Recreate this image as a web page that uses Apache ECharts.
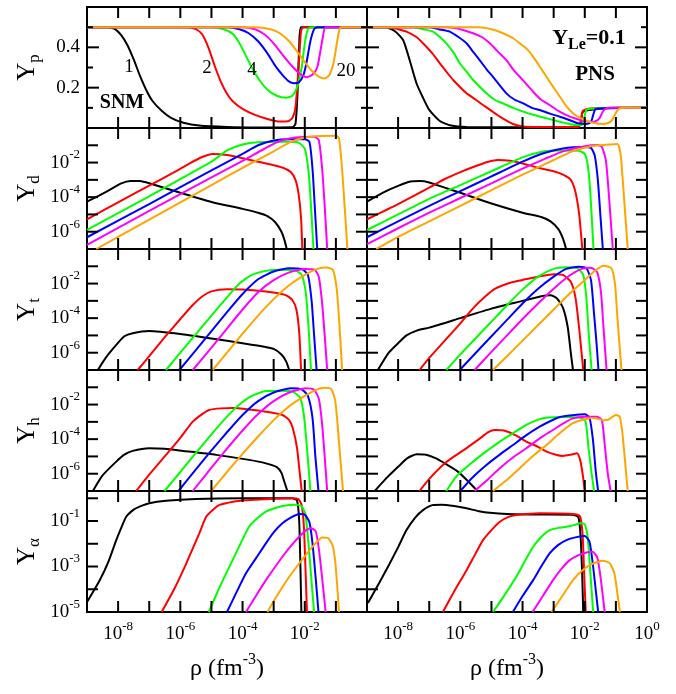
<!DOCTYPE html>
<html>
<head>
<meta charset="utf-8">
<script src="https://cdn.jsdelivr.net/npm/echarts@6/dist/echarts.min.js"></script>
<style>
html, body { margin: 0; padding: 0; background: #fff; }
#chart { width: 676px; height: 694px; }
</style>
</head>
<body>
<div id="chart"></div>
<script>
// curve colours / temperatures (MeV)
var colors = ['#000000', '#ff0000', '#00ff00', '#0000ff', '#ff00ff', '#ffa500'];
var tempNames = ['T=1', 'T=2', 'T=4', 'T=6', 'T=10', 'T=20'];

// tick values (log10 rho on x, log10 Y on y), [value, tick length px]
var xTickVals = [-8, -7, -6, -5, -4, -3, -2, -1];
var ypTickVals = [[0.1, 6], [0.2, 12], [0.3, 6], [0.4, 12], [0.5, 6]];
var logTickVals = [[-6, 11], [-5, 11], [-4, 11], [-3, 11], [-2, 11], [-1, 11]];
var alphaTickVals = [[-4, 11], [-3, 11], [-2, 11], [-1, 11], [0, 11]];

// x = log10(rho), y = Yp (linear) or log10(Y)
var ypSNM = [
    [[-9,0.5],[-8.3,0.5],[-8.1,0.49],[-7.9,0.46],[-7.7,0.41],[-7.5,0.34],[-7.3,0.26],[-7.1,0.19],[-6.9,0.135],[-6.6,0.085],[-6.3,0.05],[-5.9,0.026],[-5.4,0.012],[-4.5,0.005],[-3.5,0.003],[-2.4,0.004],[-2.3,0.02],[-2.24,0.15],[-2.18,0.4],[-2.12,0.5],[0,0.5]],
    [[-9,0.5],[-5.8,0.5],[-5.5,0.49],[-5.3,0.465],[-5.1,0.4],[-4.9,0.31],[-4.7,0.23],[-4.5,0.17],[-4.3,0.13],[-4.0,0.095],[-3.6,0.065],[-3.2,0.045],[-2.8,0.032],[-2.55,0.033],[-2.4,0.05],[-2.3,0.1],[-2.2,0.3],[-2.12,0.48],[-2.05,0.5],[0,0.5]],
    [[-9,0.5],[-5.0,0.5],[-4.6,0.49],[-4.3,0.465],[-4.1,0.42],[-3.9,0.36],[-3.7,0.3],[-3.46,0.238],[-3.2,0.19],[-2.9,0.16],[-2.6,0.15],[-2.4,0.16],[-2.25,0.2],[-2.1,0.3],[-2.0,0.42],[-1.9,0.49],[-1.8,0.5],[0,0.5]],
    [[-9,0.5],[-4.5,0.5],[-4.1,0.49],[-3.8,0.47],[-3.5,0.43],[-3.2,0.37],[-2.93,0.304],[-2.7,0.26],[-2.5,0.23],[-2.35,0.222],[-2.2,0.225],[-2.05,0.26],[-1.95,0.32],[-1.82,0.43],[-1.7,0.49],[-1.6,0.5],[0,0.5]],
    [[-9,0.5],[-4.0,0.5],[-3.6,0.49],[-3.3,0.465],[-3.0,0.42],[-2.7,0.36],[-2.4,0.305],[-2.15,0.268],[-1.92,0.252],[-1.75,0.265],[-1.6,0.3],[-1.5,0.38],[-1.42,0.45],[-1.33,0.5],[0,0.5]],
    [[-9,0.5],[-3.6,0.5],[-3.1,0.49],[-2.8,0.47],[-2.5,0.43],[-2.2,0.37],[-1.97,0.321],[-1.75,0.28],[-1.55,0.255],[-1.38,0.246],[-1.22,0.26],[-1.08,0.32],[-0.98,0.41],[-0.9,0.48],[-0.83,0.5],[0,0.5]]
];
var ypPNS = [
    [[-9,0.5],[-8.4,0.5],[-8.1,0.48],[-7.84,0.436],[-7.63,0.337],[-7.41,0.222],[-7.2,0.15],[-7.0,0.09],[-6.66,0.035],[-6.3,0.012],[-5.8,0.005],[-3,0.004],[-2.2,0.005],[-2.13,0.03],[-2.08,0.075],[-2.0,0.085],[-1.5,0.095],[-0.8,0.1],[0,0.1]],
    [[-9,0.5],[-8.3,0.5],[-8.0,0.49],[-7.73,0.478],[-7.4,0.45],[-7.2,0.42],[-6.9,0.37],[-6.66,0.321],[-6.4,0.27],[-6.23,0.238],[-5.8,0.172],[-5.5,0.14],[-5.27,0.114],[-5.0,0.085],[-4.73,0.056],[-4.5,0.035],[-4.31,0.02],[-4.0,0.008],[-3.5,0.005],[-2.2,0.005],[-2.12,0.04],[-2.06,0.085],[-1.9,0.095],[-1.0,0.1],[0,0.1]],
    [[-9,0.5],[-7.5,0.5],[-7.2,0.49],[-6.88,0.478],[-6.65,0.45],[-6.45,0.42],[-6.2,0.37],[-6.02,0.321],[-5.8,0.28],[-5.59,0.238],[-5.16,0.172],[-4.9,0.14],[-4.63,0.122],[-4.3,0.1],[-3.98,0.081],[-3.6,0.063],[-3.23,0.048],[-2.9,0.035],[-2.59,0.023],[-2.3,0.015],[-2.1,0.015],[-2.02,0.05],[-1.95,0.09],[-1.8,0.095],[-1,0.1],[0,0.1]],
    [[-9,0.5],[-7.0,0.5],[-6.7,0.49],[-6.34,0.478],[-6.05,0.45],[-5.8,0.42],[-5.6,0.38],[-5.38,0.337],[-5.15,0.29],[-4.95,0.254],[-4.52,0.172],[-4.25,0.14],[-3.98,0.122],[-3.7,0.1],[-3.45,0.089],[-3.1,0.07],[-2.8,0.056],[-2.5,0.04],[-2.2,0.023],[-1.95,0.02],[-1.8,0.03],[-1.72,0.07],[-1.65,0.095],[-1.3,0.098],[0,0.1]],
    [[-9,0.5],[-6.4,0.5],[-6.0,0.49],[-5.59,0.47],[-5.3,0.45],[-5.05,0.42],[-4.8,0.38],[-4.52,0.337],[-4.3,0.29],[-4.09,0.254],[-3.66,0.18],[-3.4,0.14],[-3.13,0.114],[-2.85,0.085],[-2.59,0.064],[-2.3,0.047],[-2.05,0.036],[-1.73,0.03],[-1.6,0.038],[-1.52,0.05],[-1.44,0.075],[-1.36,0.093],[-1.2,0.1],[0,0.1]],
    [[-9,0.5],[-5.4,0.5],[-5.0,0.49],[-4.63,0.47],[-4.3,0.445],[-4.09,0.42],[-3.85,0.39],[-3.66,0.354],[-3.45,0.305],[-3.23,0.254],[-3.0,0.2],[-2.8,0.155],[-2.6,0.11],[-2.38,0.073],[-2.15,0.05],[-1.95,0.036],[-1.7,0.025],[-1.41,0.02],[-1.25,0.025],[-1.14,0.036],[-1.05,0.06],[-0.98,0.081],[-0.88,0.097],[-0.7,0.1],[0,0.1]]
];
var ydSNM = [
    [[-9,-4.26],[-8.6,-3.9],[-8.27,-3.58],[-7.9,-3.2],[-7.6,-3.06],[-7.3,-3.07],[-7,-3.2],[-6,-3.75],[-5,-4.28],[-4,-4.68],[-3.5,-4.9],[-3.2,-5.1],[-2.95,-5.45],[-2.75,-6.0],[-2.65,-6.5],[-2.58,-7]],
    [[-9,-5.28],[-8,-4.3],[-7,-3.33],[-6.24,-2.6],[-5.7,-2.05],[-5.3,-1.68],[-4.96,-1.5],[-4.5,-1.56],[-4,-1.75],[-3.5,-1.95],[-3,-2.15],[-2.7,-2.3],[-2.45,-2.55],[-2.3,-3.0],[-2.2,-3.8],[-2.12,-5.2],[-2.08,-7]],
    [[-9,-5.9],[-7,-3.95],[-5,-1.95],[-4.5,-1.3],[-4,-0.95],[-3.5,-0.82],[-2.5,-0.8],[-2.2,-0.85],[-2.0,-1.2],[-1.88,-2.5],[-1.8,-4.5],[-1.72,-7]],
    [[-9,-6.32],[-7,-4.4],[-5,-2.45],[-4,-1.5],[-3.5,-1.0],[-3.0,-0.72],[-2.5,-0.65],[-2.0,-0.65],[-1.85,-0.8],[-1.75,-2.4],[-1.68,-4.5],[-1.6,-7]],
    [[-9,-6.76],[-7,-4.8],[-5,-2.85],[-4,-1.9],[-3.3,-1.2],[-2.8,-0.75],[-2.3,-0.55],[-1.7,-0.5],[-1.55,-0.7],[-1.44,-2.4],[-1.36,-4.5],[-1.28,-7]],
    [[-8.7,-7],[-7,-5.3],[-5,-3.3],[-4,-2.3],[-3,-1.35],[-2.5,-0.85],[-2.0,-0.55],[-1.5,-0.46],[-1.0,-0.45],[-0.9,-0.6],[-0.8,-2.4],[-0.72,-4.5],[-0.63,-7]]
];
var ydPNS = [
    [[-9,-4.26],[-8.5,-3.75],[-8,-3.35],[-7.6,-3.1],[-7.3,-3.07],[-7,-3.15],[-6.5,-3.45],[-6,-3.75],[-5,-4.37],[-4,-4.9],[-3.4,-5.15],[-3.1,-5.4],[-2.85,-5.85],[-2.7,-6.4],[-2.6,-7]],
    [[-9,-5.28],[-8,-4.4],[-7,-3.45],[-6.5,-2.95],[-6,-2.55],[-5.5,-2.2],[-5.1,-1.95],[-4.8,-1.85],[-4.4,-1.9],[-4,-2.05],[-3.5,-2.3],[-3,-2.5],[-2.7,-2.7],[-2.45,-3.0],[-2.3,-3.7],[-2.18,-5],[-2.08,-7]],
    [[-9,-5.9],[-8,-5.0],[-7,-4.1],[-6,-3.3],[-5,-2.5],[-4,-1.7],[-3.3,-1.35],[-2.8,-1.3],[-2.2,-1.32],[-2.0,-1.5],[-1.9,-2.2],[-1.82,-3.8],[-1.72,-7]],
    [[-9,-6.32],[-8,-5.4],[-7,-4.5],[-6,-3.65],[-5,-2.8],[-4,-1.95],[-3.3,-1.45],[-2.7,-1.18],[-2.0,-1.1],[-1.8,-1.15],[-1.68,-1.6],[-1.58,-3],[-1.5,-5],[-1.42,-7]],
    [[-9,-6.72],[-8,-5.8],[-7,-4.9],[-6,-4.05],[-5,-3.2],[-4,-2.35],[-3.3,-1.8],[-2.7,-1.35],[-2.0,-1.05],[-1.6,-0.98],[-1.45,-1.1],[-1.32,-1.9],[-1.22,-4],[-1.1,-7]],
    [[-8.7,-7],[-8,-6.3],[-7,-5.4],[-6,-4.5],[-5,-3.6],[-4,-2.7],[-3,-1.85],[-2.4,-1.35],[-1.8,-1.05],[-1.2,-0.95],[-0.95,-0.92],[-0.85,-1.5],[-0.78,-3],[-0.7,-5],[-0.62,-7]]
];
var ytSNM = [
    [[-8.65,-7],[-8.4,-6.3],[-8.06,-5.55],[-7.8,-5.05],[-7.53,-4.87],[-7,-4.75],[-6,-4.92],[-5,-5.18],[-4,-5.45],[-3.3,-5.65],[-3.0,-5.78],[-2.75,-6.1],[-2.6,-6.5],[-2.5,-7]],
    [[-7.37,-7],[-7,-6.2],[-6.5,-5.1],[-6,-4.05],[-5.6,-3.24],[-5.3,-2.75],[-5.0,-2.45],[-4.5,-2.33],[-4,-2.35],[-3.5,-2.42],[-3,-2.52],[-2.6,-2.68],[-2.4,-2.95],[-2.27,-3.5],[-2.18,-4.8],[-2.12,-7]],
    [[-6.46,-7],[-6,-6.0],[-5,-3.85],[-4.5,-2.8],[-4.1,-2.0],[-3.7,-1.5],[-3.3,-1.28],[-2.8,-1.2],[-2.3,-1.25],[-2.1,-1.5],[-1.97,-2.5],[-1.88,-4.5],[-1.8,-7]],
    [[-6.03,-7],[-5.5,-5.85],[-5,-4.75],[-4.5,-3.65],[-4,-2.6],[-3.5,-1.75],[-3,-1.3],[-2.5,-1.12],[-2.1,-1.15],[-1.9,-1.5],[-1.78,-3],[-1.7,-5],[-1.62,-7]],
    [[-5.6,-7],[-5,-5.7],[-4.5,-4.6],[-4,-3.5],[-3.5,-2.5],[-3,-1.8],[-2.5,-1.35],[-2,-1.15],[-1.7,-1.18],[-1.55,-1.6],[-1.45,-3],[-1.36,-5],[-1.28,-7]],
    [[-4.96,-7],[-4.5,-6.0],[-4,-4.9],[-3.5,-3.85],[-3,-2.9],[-2.5,-2.1],[-2,-1.5],[-1.6,-1.15],[-1.3,-1.07],[-1.1,-1.2],[-0.98,-2.2],[-0.9,-4],[-0.8,-7]]
];
var ytPNS = [
    [[-8.65,-7],[-8.3,-6.0],[-8,-5.45],[-7.73,-5.0],[-7.4,-4.72],[-7,-4.55],[-6,-4.0],[-5,-3.45],[-4,-3.0],[-3.4,-2.73],[-3.1,-2.68],[-2.9,-2.85],[-2.7,-3.4],[-2.55,-4.5],[-2.45,-6],[-2.38,-7]],
    [[-7.31,-7],[-7,-6.3],[-6.5,-5.3],[-6,-4.3],[-5.6,-3.45],[-5.2,-2.75],[-4.85,-2.27],[-4.4,-1.95],[-4,-1.79],[-3.5,-1.6],[-3.0,-1.46],[-2.7,-1.5],[-2.45,-1.9],[-2.3,-2.8],[-2.18,-4.6],[-2.05,-7]],
    [[-6.45,-7],[-6,-6.1],[-5.5,-5.15],[-5,-4.2],[-4.5,-3.25],[-4,-2.35],[-3.5,-1.6],[-3,-1.15],[-2.6,-1.06],[-2.25,-1.1],[-2.05,-1.5],[-1.95,-2.8],[-1.87,-5],[-1.78,-7]],
    [[-6.02,-7],[-5.5,-6.0],[-5,-5.05],[-4.5,-4.1],[-4,-3.15],[-3.5,-2.3],[-3,-1.6],[-2.6,-1.15],[-2.2,-1.02],[-1.95,-1.1],[-1.8,-1.8],[-1.7,-3.8],[-1.62,-5.5],[-1.56,-7]],
    [[-5.54,-7],[-5,-5.95],[-4.5,-5.0],[-4,-4.05],[-3.5,-3.15],[-3,-2.3],[-2.5,-1.55],[-2.1,-1.15],[-1.8,-1.08],[-1.6,-1.35],[-1.48,-2.5],[-1.4,-4.5],[-1.3,-7]],
    [[-4.95,-7],[-4.5,-6.2],[-4,-5.3],[-3.5,-4.4],[-3,-3.5],[-2.5,-2.6],[-2,-1.8],[-1.7,-1.3],[-1.4,-0.97],[-1.15,-1.1],[-1.03,-2],[-0.95,-4],[-0.82,-7]]
];
var yhSNM = [
    [[-8.81,-7],[-8.5,-6.1],[-8.06,-5.3],[-7.8,-4.9],[-7.53,-4.68],[-7.0,-4.53],[-6.5,-4.56],[-5.92,-4.68],[-4.85,-4.91],[-3.79,-5.2],[-3.25,-5.4],[-2.9,-5.62],[-2.75,-5.95],[-2.66,-6.45],[-2.56,-7]],
    [[-7.42,-7],[-7.0,-6.05],[-6.46,-4.91],[-6.0,-3.92],[-5.6,-2.99],[-5.3,-2.55],[-5.07,-2.31],[-4.7,-2.22],[-4.32,-2.2],[-3.8,-2.28],[-3.25,-2.41],[-2.72,-2.6],[-2.5,-2.9],[-2.38,-3.4],[-2.25,-4.5],[-2.16,-6],[-2.1,-7]],
    [[-6.51,-7],[-6.0,-5.9],[-5.5,-4.8],[-5.0,-3.72],[-4.5,-2.7],[-4.1,-2.0],[-3.7,-1.5],[-3.25,-1.22],[-2.8,-1.2],[-2.4,-1.25],[-2.15,-1.6],[-2.03,-2.6],[-1.93,-4.5],[-1.82,-7]],
    [[-6.06,-7],[-5.5,-5.75],[-5.0,-4.65],[-4.5,-3.6],[-4.0,-2.6],[-3.5,-1.8],[-3.0,-1.3],[-2.45,-1.06],[-2.1,-1.12],[-1.9,-1.5],[-1.75,-2.8],[-1.66,-5],[-1.56,-7]],
    [[-5.6,-7],[-5.0,-5.65],[-4.5,-4.55],[-4.0,-3.5],[-3.5,-2.55],[-3.0,-1.8],[-2.5,-1.3],[-1.97,-1.06],[-1.7,-1.15],[-1.55,-1.65],[-1.45,-3],[-1.36,-5],[-1.28,-7]],
    [[-5.01,-7],[-4.5,-5.9],[-4.0,-4.85],[-3.5,-3.85],[-3.0,-2.9],[-2.5,-2.1],[-2.0,-1.5],[-1.6,-1.12],[-1.38,-1.02],[-1.15,-1.1],[-1.02,-1.8],[-0.93,-3.5],[-0.85,-5.3],[-0.77,-7]]
];
var yhPNS = [
    [[-8.75,-7],[-8.4,-6.3],[-8,-5.6],[-7.7,-5.1],[-7.4,-4.87],[-7.1,-4.9],[-6.8,-5.1],[-6.5,-5.4],[-6.1,-5.85],[-5.8,-6.35],[-5.45,-7]],
    [[-7.31,-7],[-7,-6.3],[-6.56,-5.49],[-6.2,-5.0],[-5.81,-4.53],[-5.4,-4.0],[-5.1,-3.6],[-4.9,-3.47],[-4.6,-3.5],[-4.2,-3.8],[-3.88,-4.14],[-3.5,-4.45],[-3.23,-4.72],[-2.9,-4.92],[-2.7,-4.97],[-2.45,-4.9],[-2.25,-4.82],[-2.15,-5.2],[-2.07,-6],[-2.0,-7]],
    [[-6.45,-7],[-6.1,-6.1],[-5.59,-5.3],[-5.2,-4.75],[-4.73,-4.14],[-4.3,-3.65],[-3.88,-3.18],[-3.5,-2.87],[-3.2,-2.75],[-2.6,-2.72],[-2.1,-2.78],[-1.97,-3.0],[-1.88,-4.5],[-1.78,-6],[-1.7,-7]],
    [[-6.0,-7],[-5.6,-6.2],[-5.16,-5.49],[-4.7,-4.85],[-4.31,-4.34],[-3.9,-3.8],[-3.45,-3.28],[-3.1,-2.95],[-2.8,-2.72],[-2.4,-2.62],[-2.0,-2.56],[-1.85,-2.75],[-1.74,-4],[-1.64,-6],[-1.57,-7]],
    [[-5.54,-7],[-5.1,-6.3],[-4.73,-5.68],[-4.3,-5.05],[-3.88,-4.53],[-3.4,-3.9],[-3.02,-3.47],[-2.7,-3.1],[-2.38,-2.8],[-2.0,-2.7],[-1.6,-2.7],[-1.45,-2.9],[-1.36,-4.3],[-1.26,-6],[-1.17,-7]],
    [[-4.95,-7],[-4.5,-6.35],[-4.09,-5.68],[-3.65,-4.95],[-3.23,-4.34],[-2.8,-3.65],[-2.38,-3.08],[-2.0,-2.85],[-1.7,-2.78],[-1.4,-2.9],[-1.25,-2.88],[-1.0,-2.6],[-0.88,-2.7],[-0.8,-3.5],[-0.72,-5],[-0.62,-7]]
];
var yaSNM = [
    [[-9,-4.56],[-8.59,-3.6],[-8.3,-2.75],[-8.06,-1.84],[-7.9,-1.3],[-7.74,-0.81],[-7.5,-0.5],[-7.31,-0.37],[-7,-0.22],[-6.46,-0.11],[-5.5,-0.03],[-4,0],[-2.4,0],[-2.25,-0.1],[-2.18,-1],[-2.14,-3],[-2.11,-5]],
    [[-6.6,-5],[-6.2,-4.0],[-5.81,-2.87],[-5.6,-2.2],[-5.39,-1.54],[-5.17,-0.81],[-4.95,-0.5],[-4.75,-0.3],[-4.3,-0.15],[-3.89,-0.09],[-3,-0.02],[-2.4,0],[-2.2,-0.05],[-2.1,-0.3],[-2.03,-1.2],[-1.98,-3],[-1.93,-5]],
    [[-5.09,-5],[-4.7,-3.8],[-4.32,-2.72],[-4.05,-1.95],[-3.79,-1.25],[-3.5,-0.85],[-3.25,-0.59],[-3.0,-0.45],[-2.72,-0.34],[-2.3,-0.28],[-2.1,-0.35],[-1.98,-0.7],[-1.88,-2],[-1.78,-3.7],[-1.7,-5]],
    [[-4.5,-5],[-4.2,-4.15],[-3.89,-3.3],[-3.55,-2.6],[-3.25,-1.98],[-3.0,-1.5],[-2.72,-1.1],[-2.45,-0.85],[-2.18,-0.69],[-2.0,-0.72],[-1.85,-1.05],[-1.75,-2],[-1.65,-3.5],[-1.56,-5]],
    [[-3.89,-5],[-3.55,-4.25],[-3.25,-3.6],[-2.72,-2.57],[-2.45,-2.1],[-2.18,-1.69],[-1.95,-1.4],[-1.8,-1.32],[-1.65,-1.45],[-1.55,-2.2],[-1.45,-3.4],[-1.33,-5]],
    [[-3.2,-5],[-2.9,-4.3],[-2.5,-3.45],[-2.2,-2.9],[-1.97,-2.5],[-1.7,-2.05],[-1.44,-1.72],[-1.25,-1.75],[-1.1,-2.1],[-1.02,-2.8],[-0.96,-3.8],[-0.9,-5]]
];
var yaPNS = [
    [[-8.97,-4.6],[-8.6,-3.7],[-8.27,-2.87],[-8.0,-2.15],[-7.73,-1.4],[-7.45,-0.85],[-7.2,-0.52],[-6.9,-0.3],[-6.6,-0.28],[-6.2,-0.34],[-5.8,-0.44],[-5.4,-0.57],[-5.05,-0.64],[-4.5,-0.69],[-3.5,-0.71],[-2.4,-0.72],[-2.2,-0.85],[-2.13,-1.8],[-2.08,-3.5],[-2.05,-5]],
    [[-6.56,-5],[-6.2,-4.1],[-5.8,-3.16],[-5.5,-2.4],[-5.27,-1.84],[-5.0,-1.4],[-4.73,-1.03],[-4.45,-0.82],[-4.2,-0.74],[-3.45,-0.66],[-2.3,-0.7],[-2.15,-0.8],[-2.07,-1.6],[-2.02,-3.3],[-1.97,-5]],
    [[-4.95,-5],[-4.6,-4.3],[-4.2,-3.45],[-3.9,-2.7],[-3.66,-2.13],[-3.4,-1.7],[-3.13,-1.4],[-2.85,-1.3],[-2.59,-1.25],[-2.35,-1.18],[-2.15,-1.1],[-2.0,-1.15],[-1.9,-1.8],[-1.82,-3.3],[-1.73,-5]],
    [[-4.31,-5],[-4.0,-4.3],[-3.66,-3.6],[-3.4,-3.0],[-3.13,-2.42],[-2.85,-2.05],[-2.59,-1.84],[-2.3,-1.72],[-2.0,-1.66],[-1.85,-1.9],[-1.75,-2.8],[-1.65,-4],[-1.57,-5]],
    [[-3.68,-5],[-3.35,-4.3],[-3.02,-3.6],[-2.75,-3.1],[-2.48,-2.72],[-2.2,-2.5],[-1.95,-2.38],[-1.75,-2.35],[-1.6,-2.6],[-1.5,-3.4],[-1.36,-5]],
    [[-3.07,-5],[-2.7,-4.25],[-2.38,-3.6],[-2.1,-3.2],[-1.84,-2.94],[-1.6,-2.8],[-1.41,-2.75],[-1.2,-2.85],[-1.05,-3.3],[-0.95,-4.2],[-0.87,-5]]
];

var rowNames = ['p', 'd', 't', 'h', 'α'];
var rowData = [[ypSNM, ypPNS], [ydSNM, ydPNS], [ytSNM, ytPNS], [yhSNM, yhPNS], [yaSNM, yaPNS]];
var rowTicks = [ypTickVals, logTickVals, logTickVals, logTickVals, alphaTickVals];

var font = 'Liberation Serif';
var colLeft = [87, 367];
var rowTop = [7, 128, 249, 370, 491];
var panelW = 280, panelH = 121;
var xMin = -9, xMax = 0;

function labelRich() {
    return {
        b: { fontSize: 19, fontFamily: font, color: '#000', lineHeight: 28 },
        s: { fontSize: 13, fontFamily: font, color: '#000', lineHeight: 12, verticalAlign: 'top' }
    };
}
function blackLine() { return { color: '#000', width: 2 }; }

function yRange(r) {
    if (r === 0) return { min: 0, max: 0.6, interval: 0.2 };
    if (r === 4) return { min: -5, max: 0.32, interval: 1 };
    return { min: -7, max: 0, interval: 1 };
}

function yLabel(r, v) {
    if (r === 0) {
        if (Math.abs(v - 0.2) < 1e-6) return '{b|0.2}';
        if (Math.abs(v - 0.4) < 1e-6) return '{b|0.4}';
        return '';
    }
    if (Math.abs(v - Math.round(v)) > 1e-6) return '';
    v = Math.round(v);
    if (r === 4) {
        if (v === -1 || v === -3 || v === -5) return '{b|10}{s|' + v + '}';
        return '';
    }
    if (v === -2 || v === -4 || v === -6) return '{b|10}{s|' + v + '}';
    return '';
}

var grids = [], xAxes = [], yAxes = [], series = [], panelRanges = [];
var idx = 0;
for (var r = 0; r < 5; r++) {
    for (var c = 0; c < 2; c++) {
        grids.push({ left: colLeft[c], top: rowTop[r], width: panelW, height: panelH });
        var yr = yRange(r);
        panelRanges.push({ yr: yr, ticks: rowTicks[r] });
        ['bottom', 'top'].forEach(function (pos) {
            var showLab = pos === 'bottom' && r === 4;
            var col = c;
            var ax = {
                type: 'value', gridIndex: idx, position: pos, min: xMin, max: xMax, interval: 1,
                axisLine: { show: true, onZero: false, lineStyle: blackLine() },
                axisTick: { show: false },
                splitLine: { show: false },
                axisLabel: { show: showLab, margin: 8, showMinLabel: true, showMaxLabel: true }
            };
            if (showLab) {
                ax.axisLabel.formatter = function (v) {
                    v = Math.round(v);
                    if (v % 2 !== 0) return '';
                    if (col === 0 && v === 0) return '';
                    return '{b|10}{s|' + v + '}';
                };
                ax.axisLabel.rich = labelRich();
                ax.name = '{a|ρ (fm}{s|-3}{a|)}';
                ax.nameLocation = 'middle';
                ax.nameGap = 40;
                ax.nameTextStyle = {
                    rich: {
                        a: { fontSize: 24, fontFamily: font, color: '#000', lineHeight: 34 },
                        s: { fontSize: 16, fontFamily: font, color: '#000', lineHeight: 16, verticalAlign: 'top' }
                    }
                };
            }
            xAxes.push(ax);
        });
        ['left', 'right'].forEach(function (pos) {
            var showLab = pos === 'left' && c === 0;
            var row = r;
            var ax = {
                type: 'value', gridIndex: idx, position: pos,
                min: yr.min, max: yr.max, interval: yr.interval,
                axisLine: { show: true, onZero: false, lineStyle: blackLine() },
                axisTick: { show: false },
                splitLine: { show: false },
                axisLabel: { show: showLab, margin: 7, showMinLabel: true, showMaxLabel: true }
            };
            if (showLab) {
                ax.axisLabel.formatter = function (v) { return yLabel(row, v); };
                ax.axisLabel.rich = labelRich();
                ax.name = '{y|Y}{s|' + rowNames[r] + '}';
                ax.nameLocation = 'middle';
                ax.nameRotate = 90;
                ax.nameGap = 44;
                ax.nameTextStyle = {
                    rich: {
                        y: { fontSize: 25, fontFamily: font, color: '#000', lineHeight: 32 },
                        s: { fontSize: 17, fontFamily: font, color: '#000', lineHeight: 17, verticalAlign: 'bottom' }
                    }
                };
            }
            yAxes.push(ax);
        });
        var curves = rowData[r][c];
        for (var k = 0; k < curves.length; k++) {
            series.push({
                name: tempNames[k], type: 'line',
                xAxisIndex: idx * 2, yAxisIndex: idx * 2,
                data: curves[k], showSymbol: false,
                smooth: 0.2,
                lineStyle: { color: colors[k], width: 2 },
                itemStyle: { color: colors[k] }
            });
        }
        idx++;
    }
}

function txt(x, y, text, f) {
    return {
        type: 'text', x: x, y: y, z: 10,
        style: { text: text, font: f, fill: '#000', align: 'center', verticalAlign: 'middle', textAlign: 'center', textVerticalAlign: 'middle' }
    };
}

var labels = [
    txt(129, 67, '1', '19px "Liberation Serif"'),
    txt(207, 68, '2', '19px "Liberation Serif"'),
    txt(252, 70, '4', '19px "Liberation Serif"'),
    txt(346, 71, '20', '19px "Liberation Serif"'),
    txt(122, 103, 'SNM', 'bold 20px "Liberation Serif"'),
    txt(595, 75, 'PNS', 'bold 21px "Liberation Serif"'),
    {
        type: 'text', x: 589, y: 38, z: 10,
        style: {
            text: '{a|Y}{b|Le}{a|=0.1}', align: 'center', verticalAlign: 'middle',
            textAlign: 'center', textVerticalAlign: 'middle',
            rich: {
                a: { fontSize: 22, fontWeight: 'bold', fontFamily: font, fill: '#000', lineHeight: 30 },
                b: { fontSize: 16, fontWeight: 'bold', fontFamily: font, fill: '#000', lineHeight: 16, verticalAlign: 'bottom' }
            }
        }
    }
];

var option = {
    animation: false,
    grid: grids,
    xAxis: xAxes,
    yAxis: yAxes,
    series: series,
    graphic: labels
};

var myChart = echarts.init(document.getElementById('chart'));
myChart.setOption(option);

// inward tick marks on all four sides, placed through each panel's axes
function tickLine(x1, y1, x2, y2) {
    return {
        type: 'line', z: 20, silent: true,
        shape: { x1: x1, y1: y1, x2: x2, y2: y2 },
        style: { stroke: '#000', lineWidth: 2 }
    };
}
var tickEls = [];
panelRanges.forEach(function (p, gi) {
    var finder = { xAxisIndex: gi * 2, yAxisIndex: gi * 2 };
    xTickVals.forEach(function (v) {
        var b = myChart.convertToPixel(finder, [v, p.yr.min]);
        var t = myChart.convertToPixel(finder, [v, p.yr.max]);
        if (b) tickEls.push(tickLine(b[0], b[1], b[0], b[1] - 11));
        if (t) tickEls.push(tickLine(t[0], t[1], t[0], t[1] + 11));
    });
    p.ticks.forEach(function (tk) {
        var l = myChart.convertToPixel(finder, [xMin, tk[0]]);
        var rr = myChart.convertToPixel(finder, [xMax, tk[0]]);
        if (l) tickEls.push(tickLine(l[0], l[1], l[0] + tk[1], l[1]));
        if (rr) tickEls.push(tickLine(rr[0], rr[1], rr[0] - tk[1], rr[1]));
    });
});
myChart.setOption({ graphic: labels.concat(tickEls) });
</script>
</body>
</html>
